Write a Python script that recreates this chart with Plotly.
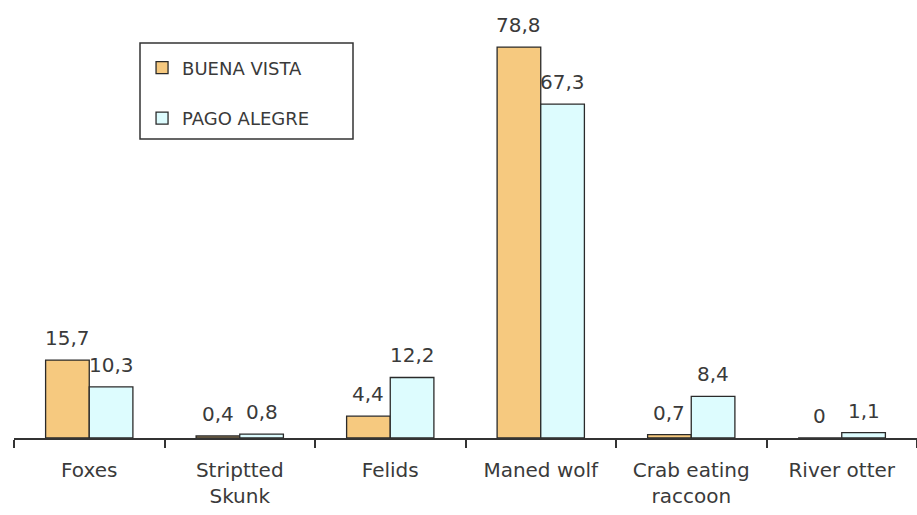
import plotly.graph_objects as go

categories = ["Foxes", "Striptted<br>Skunk", "Felids", "Maned wolf", "Crab eating<br>raccoon", "River otter"]
buena_vista = [15.7, 0.4, 4.4, 78.8, 0.7, 0]
pago_alegre = [10.3, 0.8, 12.2, 67.3, 8.4, 1.1]
series_names = ["BUENA VISTA", "PAGO ALEGRE"]

ORANGE = "#F6C97F"
CYAN = "#DDFCFE"
EDGE = "#2a2a2a"
TXT = "#3a3a3a"
FONT = "DejaVu Sans"

fig = go.Figure()
fig.add_trace(go.Bar(x=categories, y=buena_vista, name=series_names[0],
                     marker=dict(color=ORANGE, line=dict(color=EDGE, width=1.3)),
                     legendgroup="a"))
fig.add_trace(go.Bar(x=categories, y=pago_alegre, name=series_names[1],
                     marker=dict(color=CYAN, line=dict(color=EDGE, width=1.3)),
                     legendgroup="b"))

def fmt(v):
    return (f"{v:g}").replace(".", ",")

annotations = []
for vals, shift in ((buena_vista, -22), (pago_alegre, 22)):
    for c, v in zip(categories, vals):
        annotations.append(dict(x=c, y=v, xref="x", yref="y", text=fmt(v),
                                showarrow=False, yanchor="bottom", xshift=shift,
                                yshift=8, font=dict(family=FONT, size=20, color=TXT)))

fig.update_layout(
    width=917, height=515,
    margin=dict(l=14, r=0, t=0, b=77),
    paper_bgcolor="white", plot_bgcolor="white",
    barmode="group", bargap=0.42, bargroupgap=0,
    showlegend=True,
    legend=dict(x=0.1418, y=0.887, xanchor="left", yanchor="top",
                traceorder="grouped", tracegroupgap=24,
                font=dict(family=FONT, size=18, color=TXT),
                bgcolor="rgba(0,0,0,0)", borderwidth=0),
    annotations=annotations,
    shapes=[dict(type="rect", xref="paper", yref="paper",
                 x0=(140 - 14) / 903, x1=(353 - 14) / 903,
                 y0=1 - 139 / 438, y1=1 - 43 / 438,
                 line=dict(color="#333333", width=1.5))],
    xaxis=dict(type="category", range=[-0.5, 5.5], showline=True, linecolor="#333333",
               linewidth=1.5, ticks="outside", tickson="boundaries", ticklen=8,
               tickcolor="#333333", tickwidth=1.5, showgrid=False,
               ticklabelstandoff=13,
               tickfont=dict(family=FONT, size=20, color=TXT)),
    yaxis=dict(range=[0, 88.3], visible=False, showgrid=False, zeroline=False),
)

fig.write_html("out.html")
